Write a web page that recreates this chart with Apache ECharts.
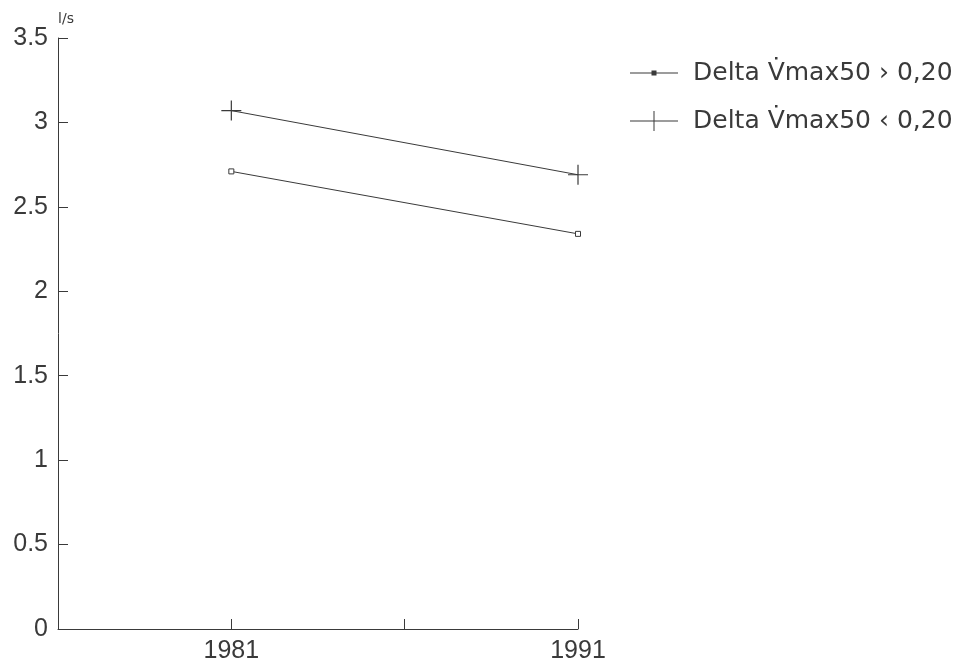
<!DOCTYPE html>
<html><head><meta charset="utf-8">
<script src="https://cdn.jsdelivr.net/npm/echarts@6/dist/echarts.min.js"></script>
<style>html,body{margin:0;padding:0;background:#fff}#c{width:969px;height:664px}</style>
</head><body><div id="c"></div>
<script>
const years = [1981, 1991];
const seriesNames = ['Delta V\u0307max50 \u203A 0,20', 'Delta V\u0307max50 \u2039 0,20'];
const valuesAbove = [2.71, 2.34];
const valuesBelow = [3.07, 2.69];
const xLabelYears = [1981, 1991];
const yUnit = 'l/s';

const ink = '#3a3a3a';
const plusPath = 'path://M-0.6,-10L0.6,-10L0.6,-0.6L10,-0.6L10,0.6L0.6,0.6L0.6,10L-0.6,10L-0.6,0.6L-10,0.6L-10,-0.6L-0.6,-0.6Z';
const chart = echarts.init(document.getElementById('c'));
const font = 'Liberation Sans, Arial, sans-serif';
const legFont = 'DejaVu Sans, sans-serif';
chart.setOption({
  backgroundColor: '#fff',
  animation: false,
  grid: {left: 58, right: 391, top: 38, bottom: 35},
  legend: {
    left: 625, top: 55, orient: 'vertical', itemGap: 22, itemWidth: 48, itemHeight: 20,
    textStyle: {fontFamily: legFont, fontSize: 25, lineHeight: 26, color: ink, padding: [0,0,0,10]},
    data: [
      {name: seriesNames[0], icon: 'path://M0,9.5L48,9.5L48,10.5L0,10.5Z M21.5,7.5L26.5,7.5L26.5,12.5L21.5,12.5Z', itemStyle: {color: ink, borderWidth: 0}},
      {name: seriesNames[1], icon: 'path://M0,9.5L48,9.5L48,10.5L0,10.5Z M23.5,0L24.5,0L24.5,20L23.5,20Z', itemStyle: {color: ink, borderWidth: 0}}
    ]
  },
  xAxis: {
    type: 'value', min: 1976, max: 1991, interval: 5,
    axisLine: {lineStyle: {color: ink, width: 1}},
    axisTick: {inside: true, length: 10, lineStyle: {color: ink}},
    splitLine: {show: false},
    axisLabel: {
      fontFamily: font, fontSize: 25, color: ink, margin: 10,
      formatter: v => xLabelYears.includes(v) ? String(v) : ''
    }
  },
  yAxis: {
    type: 'value', min: 0, max: 3.5, interval: 0.5,
    name: yUnit, nameLocation: 'end', nameGap: 12,
    nameTextStyle: {fontFamily: legFont, fontSize: 14, color: ink, align: 'center', padding: [0,0,0,16]},
    axisLine: {show: true, lineStyle: {color: ink, width: 1}},
    axisTick: {show: true, inside: true, length: 10, lineStyle: {color: ink}},
    splitLine: {show: false},
    axisLabel: {fontFamily: font, fontSize: 25, color: ink, margin: 10}
  },
  series: [
    {
      name: seriesNames[0], type: 'line',
      data: years.map((y, i) => [y, valuesAbove[i]]),
      symbol: 'rect', symbolSize: 5,
      itemStyle: {color: '#fff', borderColor: ink, borderWidth: 1},
      lineStyle: {color: ink, width: 1}
    },
    {
      name: seriesNames[1], type: 'line',
      data: years.map((y, i) => [y, valuesBelow[i]]),
      symbol: plusPath, symbolSize: 20,
      itemStyle: {color: ink},
      lineStyle: {color: ink, width: 1}
    }
  ]
});
</script></body></html>
